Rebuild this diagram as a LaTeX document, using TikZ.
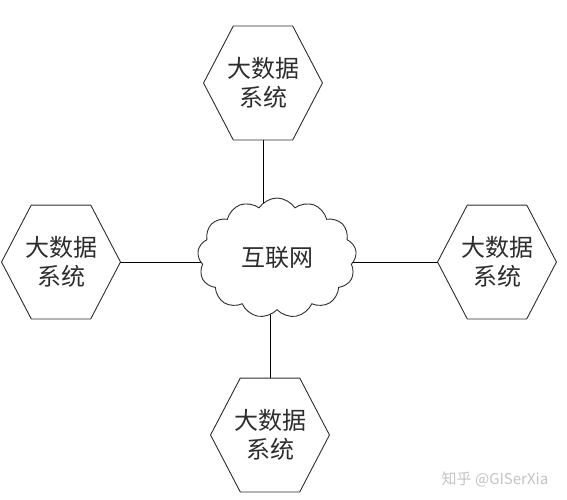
\documentclass[tikz,border=0pt]{standalone}
\usepackage{fontspec}
\setmainfont{Noto Sans CJK SC}
\usetikzlibrary{shapes.symbols, calc, backgrounds}
\definecolor{inkgray}{RGB}{45, 45, 45}
\definecolor{markgray}{RGB}{195, 195, 195}

\tikzset{
  sysbox/.style={minimum width=118pt, minimum height=113pt, inner sep=0pt, align=center, font=\fontsize{24}{29}\selectfont},
  netcloud/.style={draw, fill=white, cloud, cloud puffs=13, cloud puff arc=115, aspect=1.35, minimum width=159pt, minimum height=120pt, inner sep=0pt, font=\fontsize{24}{29}\selectfont}
}

\begin{document}
\begin{tikzpicture}[x=1pt, y=-1pt, line width=0.9pt, color=inkgray]
  \useasboundingbox (0,0) rectangle (567,500);

  % Internet in the middle
  \node[netcloud] (net) at (277,258) {互联网};

  % Big data systems
  \node[sysbox] (top) at (263,83) {大数据\\系统};
  \node[sysbox] (left) at (61,262) {大数据\\系统};
  \node[sysbox] (right) at (497,262) {大数据\\系统};
  \node[sysbox] (bottom) at (270,435) {大数据\\系统};

  % Hexagon outlines
  \foreach \h in {top, left, right, bottom}
    \draw (\h.west) -- ($(\h.north west)!.25!(\h.north east)$) -- ($(\h.north west)!.75!(\h.north east)$)
      -- (\h.east) -- ($(\h.south west)!.75!(\h.south east)$) -- ($(\h.south west)!.25!(\h.south east)$) -- cycle;

  % Links to the cloud
  \begin{scope}[on background layer]
    \draw (top.south) -- (top.south |- net.center);
    \draw (bottom.north) -- (bottom.north |- net.center);
    \draw (left.east) -- (left.east -| net.center);
    \draw (right.west) -- (right.west -| net.center);
  \end{scope}

  % Watermark
  \node[font=\fontsize{15}{18}\selectfont, text=markgray, anchor=east] (mark) at (552,479) {知乎 @GISerXia};
\end{tikzpicture}
\end{document}
